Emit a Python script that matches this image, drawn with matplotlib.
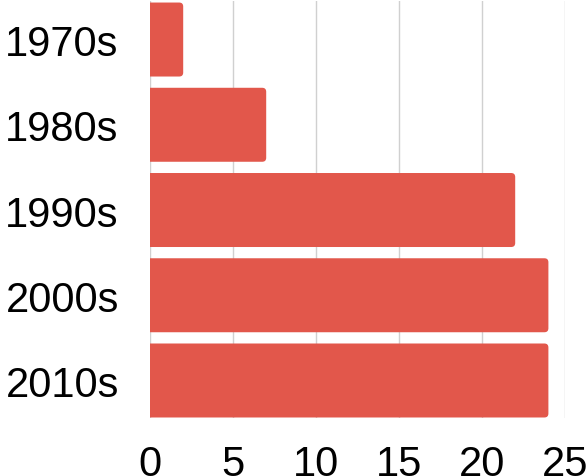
import matplotlib
matplotlib.use("Agg")
import matplotlib.pyplot as plt
from matplotlib.patches import FancyBboxPatch

categories = ["1970s", "1980s", "1990s", "2000s", "2010s"]
values = [2, 7, 22, 24, 24]
xticks = [0, 5, 10, 15, 20, 25]

W, H = 588, 477
fig = plt.figure(figsize=(W / 100, H / 100), dpi=100)
L, R, T, B = 150, 565, 2, 419
ax = fig.add_axes([L / W, 1 - B / H, (R - L) / W, (B - T) / H])

color = "#e2574b"
bar_h = 0.868
bars = ax.barh(range(len(categories)), values, height=bar_h, color=color)
ax.set_xlim(0, 25)
ax.set_ylim(4.44, -0.452)

# rounded right corners
px_x = (R - L) / 25.0
px_y = (B - T) / 4.892
r_px = 4.0
rx = r_px / px_x
aspect = (r_px / px_y) / rx
for b in bars:
    x0, y0 = b.get_x(), b.get_y()
    w, h = b.get_width(), b.get_height()
    p = FancyBboxPatch((x0 - 1, y0), w + 1, h,
                       boxstyle=f"round,pad=0,rounding_size={rx}",
                       mutation_aspect=aspect, facecolor=color,
                       edgecolor="none", zorder=3)
    ax.add_patch(p)
    b.set_visible(False)

ax.set_xticks(xticks)
ax.set_xticklabels([str(t) for t in xticks])
ax.set_yticks(range(len(categories)))
ax.set_yticklabels(categories)
for s in ax.spines.values():
    s.set_visible(False)
ax.grid(axis="x", color="#d0d0d0", linewidth=1)
ax.set_axisbelow(True)
ax.tick_params(axis="both", length=0, labelsize=30, labelcolor="black")
ax.tick_params(axis="y", pad=22.5)
ax.tick_params(axis="x", pad=18.5)
for lab in ax.get_xticklabels() + ax.get_yticklabels():
    lab.set_fontfamily("Liberation Sans")

fig.savefig("out.png", dpi=100)
